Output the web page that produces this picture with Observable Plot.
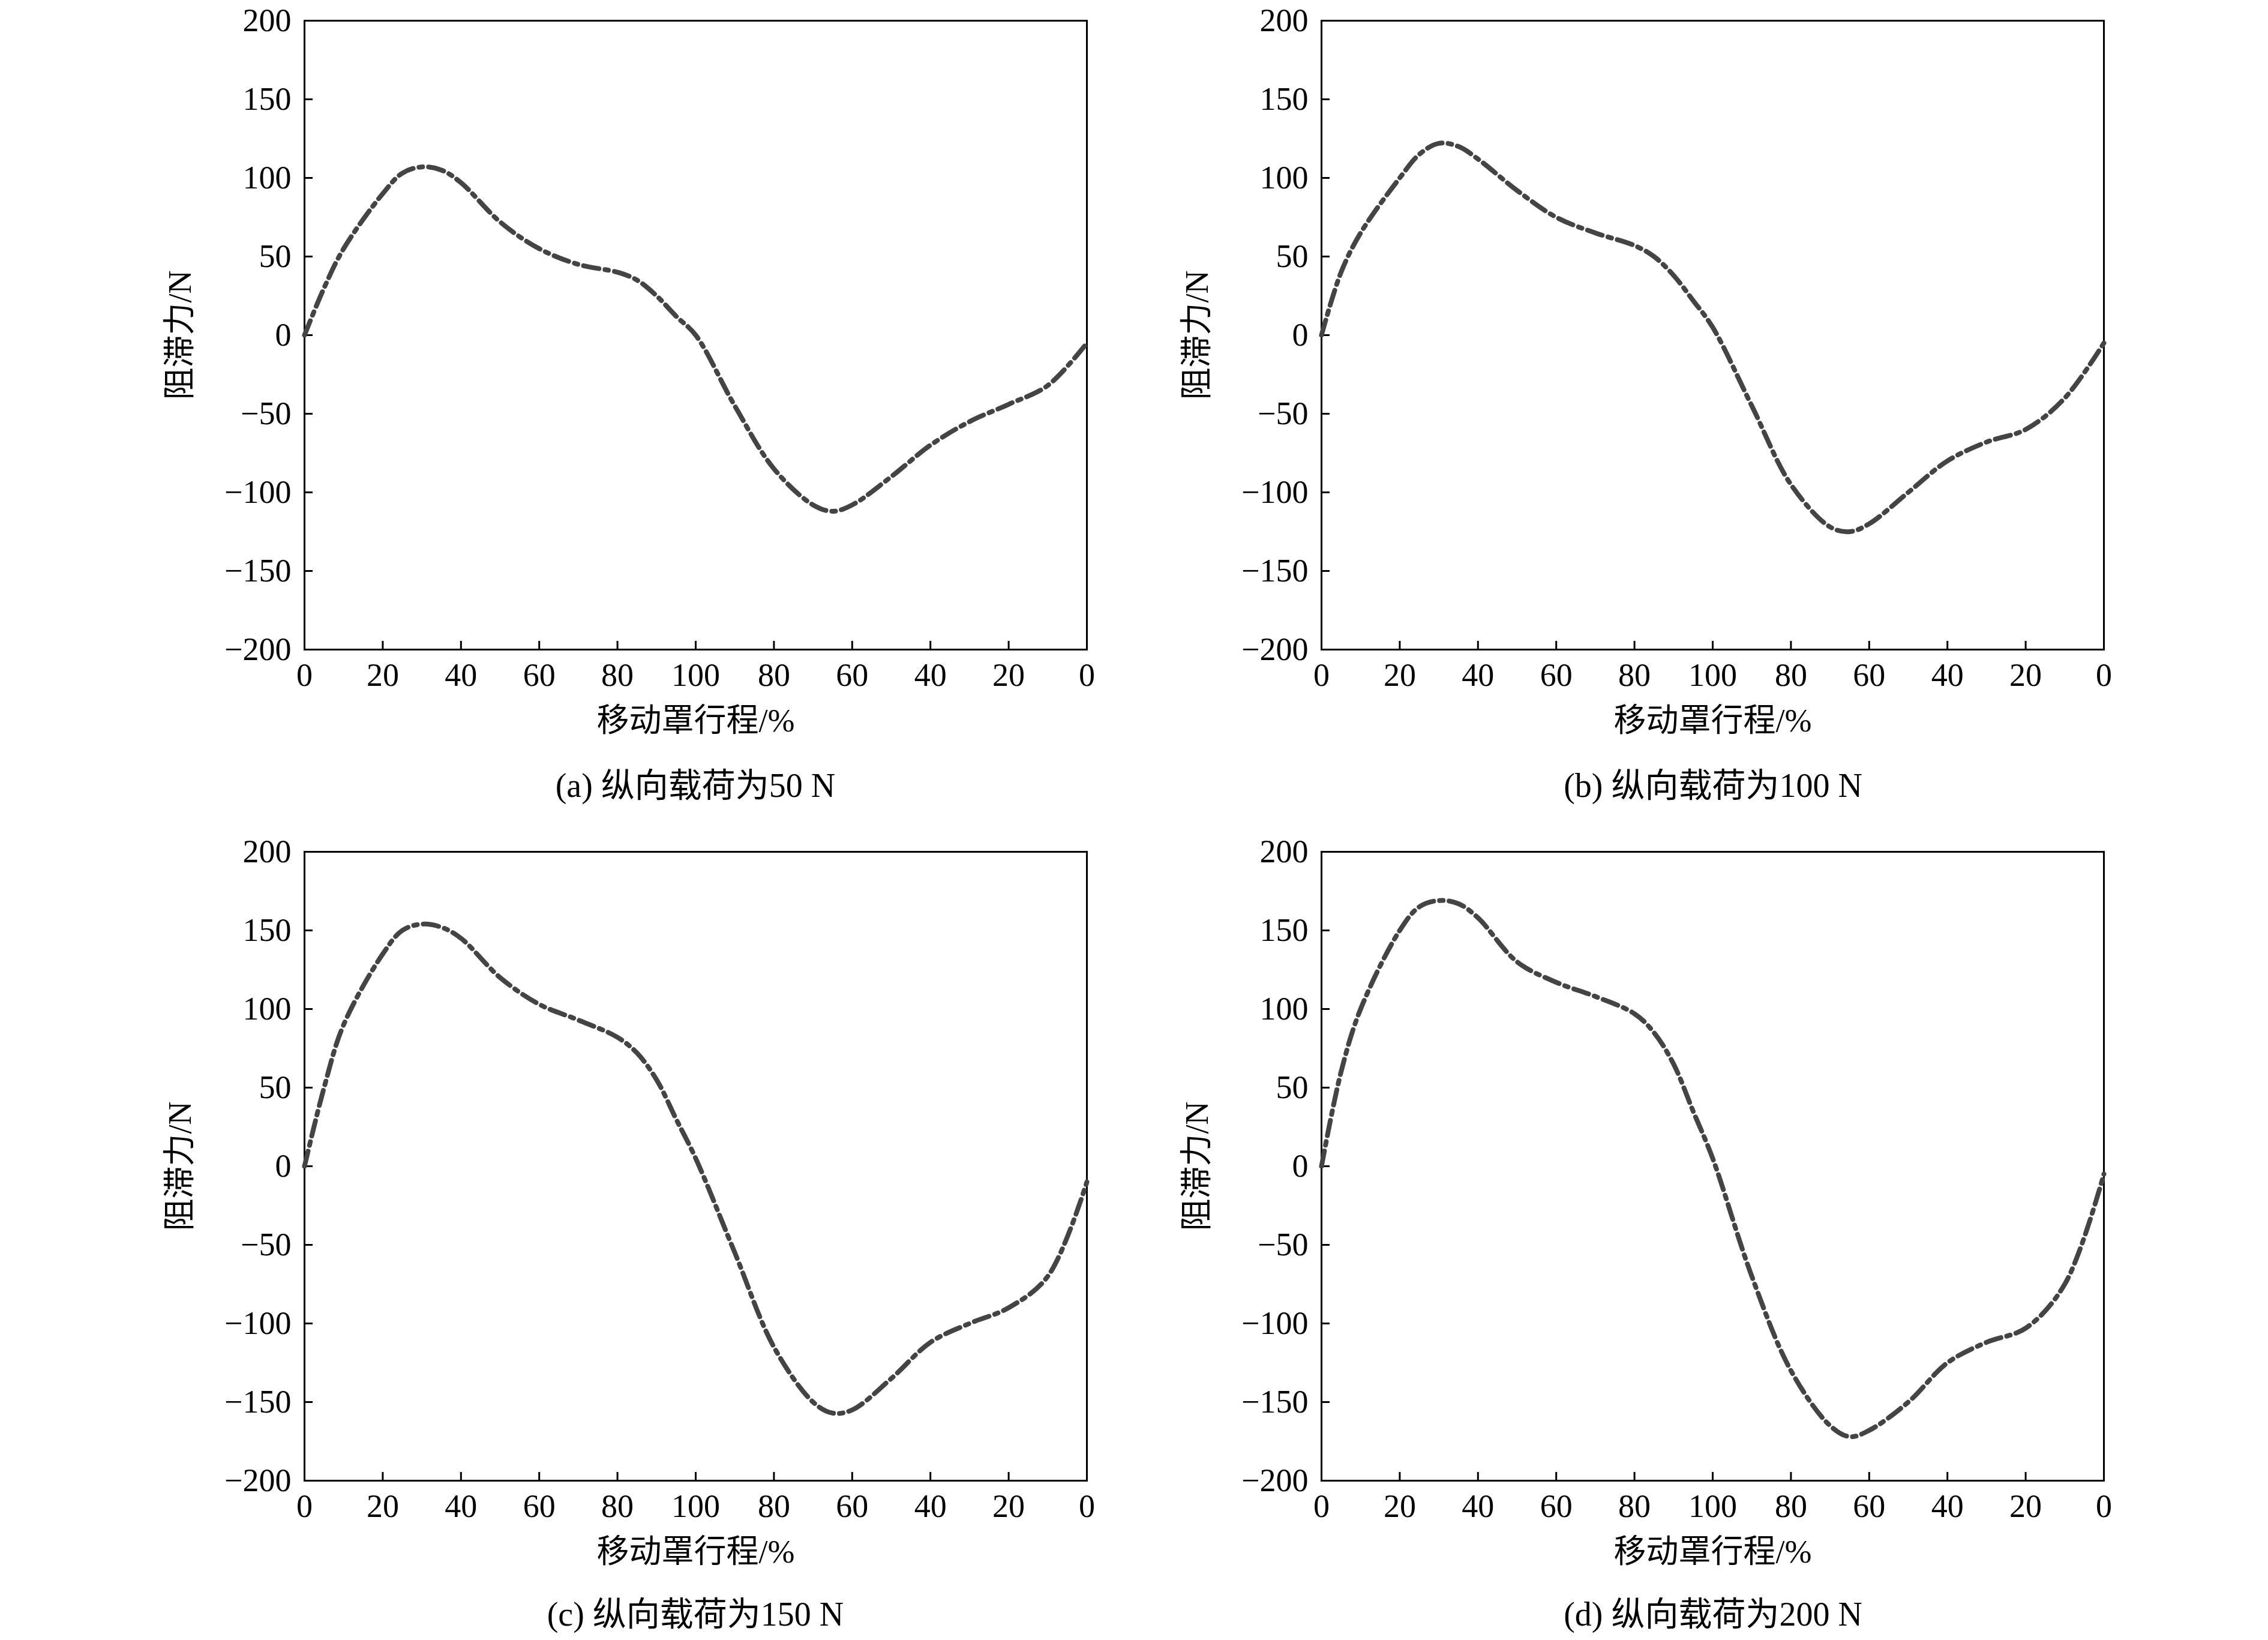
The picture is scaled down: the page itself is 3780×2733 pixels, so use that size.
<!DOCTYPE html>
<html><head><meta charset="utf-8">
<script src="https://cdn.jsdelivr.net/npm/d3@7"></script>
<script src="https://cdn.jsdelivr.net/npm/@observablehq/plot@0.6"></script>
<style>
body{margin:0;background:#fff;width:3780px;height:2733px;position:relative;overflow:hidden}
.panel{position:absolute}
.cap{position:absolute;font-family:"Liberation Serif","Noto Sans CJK SC",serif;font-size:56px;line-height:66px;color:#000;text-align:center;width:1400px}
</style></head><body>
<script>
const xPos = [0,5,10,20,25,30,35,40,50,60,70,80,85,90,95,100,110,120,130,135,140,150,160,170,180,190,200];
const seriesA = [0,30,55,90,103,107,105,97,72,55,45,40,35,25,12,0,-45,-85,-108,-112,-108,-90,-70,-55,-44,-32,-5];
const seriesB = [0,40,65,100,115,122,120,112,92,75,65,57,50,38,22,5,-45,-95,-122,-125,-120,-100,-80,-68,-60,-40,-5];
const seriesC = [0,50,90,135,150,154,152,145,120,103,93,82,72,55,30,5,-55,-115,-150,-157,-155,-135,-112,-100,-90,-70,-10];
const seriesD = [0,60,100,150,165,169,167,158,130,117,108,97,85,65,35,5,-70,-130,-165,-172,-168,-150,-125,-112,-103,-75,-5];
const xTicks = [0,20,40,60,80,100,120,140,160,180,200];
const yTicks = [-200,-150,-100,-50,0,50,100,150,200];
const captions = ["(a) 纵向载荷为50 N","(b) 纵向载荷为100 N","(c) 纵向载荷为150 N","(d) 纵向载荷为200 N"];
const all = [seriesA,seriesB,seriesC,seriesD];
const lefts=[107,1802], tops=[0,1385], capX=[1159,2855], capY=[1276,2657];
all.forEach((s,i)=>{
  const data = xPos.map((x,j)=>({x,y:s[j]}));
  const p = Plot.plot({
    width:1744,height:1248,marginLeft:400,marginRight:40,marginTop:34,marginBottom:166,
    style:{fontFamily:"Liberation Serif, Noto Sans CJK SC, serif",fontSize:"54px",color:"#000",background:"transparent",overflow:"visible"},
    x:{domain:[0,200]}, y:{domain:[-200,200]},
    marks:[
      Plot.frame({stroke:"#000",strokeWidth:3}),
      Plot.axisX({ticks:xTicks,tickSize:-14,tickPadding:36,tickFormat:d=>d<=100?d:200-d,
        label:"移动罩行程/%",labelAnchor:"center",labelArrow:"none",labelOffset:136,strokeWidth:3}),
      Plot.axisY({ticks:yTicks,tickSize:-14,tickPadding:36,tickFormat:d=>d<0?"−"+(-d):d,
        label:"阻滞力/N",labelAnchor:"center",labelArrow:"none",labelOffset:228,strokeWidth:3}),
      Plot.line(data,{x:"x",y:"y",curve:"catmull-rom",stroke:"#444",strokeWidth:8,strokeDasharray:"26,10,6,10"})
    ]
  });
  const d=document.createElement("div");d.className="panel";
  d.style.left=lefts[i%2]+"px";d.style.top=tops[Math.floor(i/2)]+"px";
  d.appendChild(p);document.body.appendChild(d);
  const c=document.createElement("div");c.className="cap";c.textContent=captions[i];
  c.style.left=(capX[i%2]-700)+"px";c.style.top=capY[Math.floor(i/2)]+"px";
  document.body.appendChild(c);
});
</script>
</body></html>
